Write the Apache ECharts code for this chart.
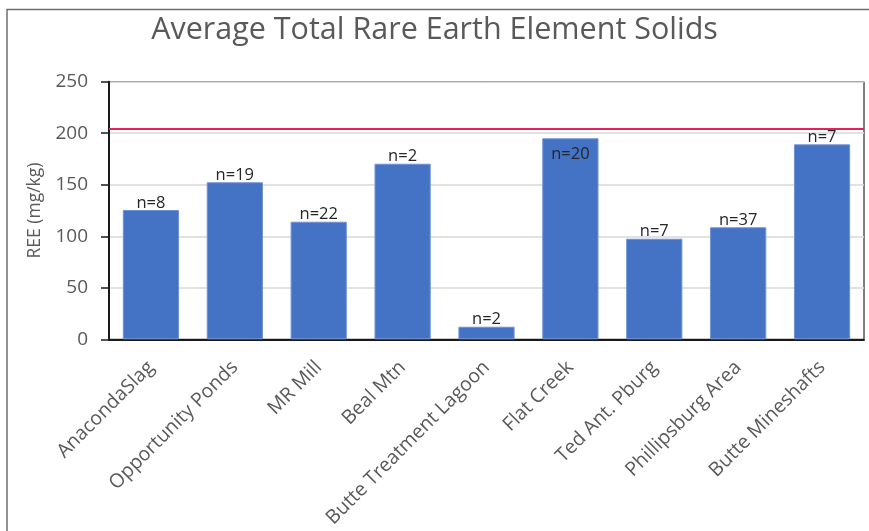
<!DOCTYPE html>
<html>
<head>
<meta charset="utf-8">
<script src="https://cdn.jsdelivr.net/npm/echarts@6/dist/echarts.min.js"></script>
<style>
  html, body { margin: 0; padding: 0; background: #fff; }
  #chart { width: 869px; height: 531px; }
</style>
</head>
<body>
<div id="chart"></div>
<script>
// Sites sampled
const categories = [
  'AnacondaSlag', 'Opportunity Ponds', 'MR Mill', 'Beal Mtn',
  'Butte Treatment Lagoon', 'Flat Creek', 'Ted Ant. Pburg',
  'Phillipsburg Area', 'Butte Mineshafts'
];
// Average total REE in solids (mg/kg)
const avgREE = [125.5, 152.4, 114.1, 170.4, 12.2, 195.1, 97.6, 108.7, 189.2];
// Sample counts shown above each bar
const sampleCounts = ['n=8', 'n=19', 'n=22', 'n=2', 'n=2', 'n=20', 'n=7', 'n=37', 'n=7'];
// Reference level drawn as a horizontal line
const referenceLevel = [204];
// Y axis ticks
const yTicks = [0, 50, 100, 150, 200, 250];

const FONT = '"Open Sans", "Noto Sans", sans-serif';

const chart = echarts.init(document.getElementById('chart'), null, { renderer: 'canvas' });

const barData = avgREE.map((v, i) => {
  const item = { value: v };
  // Flat Creek's count sits inside the bar top, below the reference line
  if (categories[i] === 'Flat Creek') {
    item.label = { position: 'insideTop', distance: 8 };
  }
  return item;
});

chart.setOption({
  animation: false,
  backgroundColor: '#ffffff',
  title: {
    text: 'Average Total Rare Earth Element Solids',
    left: 'center',
    top: 10,
    textStyle: { fontFamily: FONT, fontSize: 30.5, fontWeight: 'normal', color: '#595959' }
  },
  graphic: [{
    type: 'rect',
    shape: { x: 7, y: 9.5, width: 900, height: 560 },
    style: { fill: 'none', stroke: '#6e6e6e', lineWidth: 1.5 },
    silent: true,
    z: -1
  }],
  grid: {
    left: 109, right: 5, top: 81.7, bottom: 191.7,
    show: true, borderColor: '#000', borderWidth: 1, backgroundColor: 'transparent'
  },
  xAxis: {
    type: 'category',
    data: categories,
    axisLine: { lineStyle: { color: '#1a1a1a', width: 2 } },
    axisTick: { show: false },
    axisLabel: {
      rotate: 45, interval: 0, margin: 25,
      fontFamily: FONT, fontSize: 19.5, color: '#595959'
    }
  },
  yAxis: {
    type: 'value',
    min: yTicks[0], max: yTicks[yTicks.length - 1], interval: yTicks[1] - yTicks[0],
    name: 'REE (mg/kg)',
    nameLocation: 'middle',
    nameGap: 65,
    nameTextStyle: { fontFamily: FONT, fontSize: 17.5, color: '#595959' },
    axisLine: { show: true, lineStyle: { color: '#1a1a1a', width: 2 } },
    axisTick: { show: true, length: 8, lineStyle: { color: '#1a1a1a', width: 1.5 } },
    axisLabel: { margin: 21, fontFamily: FONT, fontSize: 19, color: '#595959' },
    splitLine: { lineStyle: { color: '#d9d9d9', width: 1.5 } }
  },
  series: [{
    type: 'bar',
    z: 3,
    data: barData,
    barCategoryGap: '33%',
    itemStyle: { color: '#4472c4', borderColor: '#6f92d2', borderWidth: 1 },
    label: {
      show: true,
      position: 'top',
      distance: -1,
      lineHeight: 16,
      fontFamily: FONT, fontSize: 16.5, color: '#262626',
      formatter: p => sampleCounts[p.dataIndex]
    },
    markLine: {
      silent: true,
      z: 1,
      symbol: 'none',
      label: { show: false },
      lineStyle: { color: '#e0245a', width: 2.2, type: 'solid' },
      data: referenceLevel.map(v => ({ yAxis: v }))
    }
  }]
});
</script>
</body>
</html>
